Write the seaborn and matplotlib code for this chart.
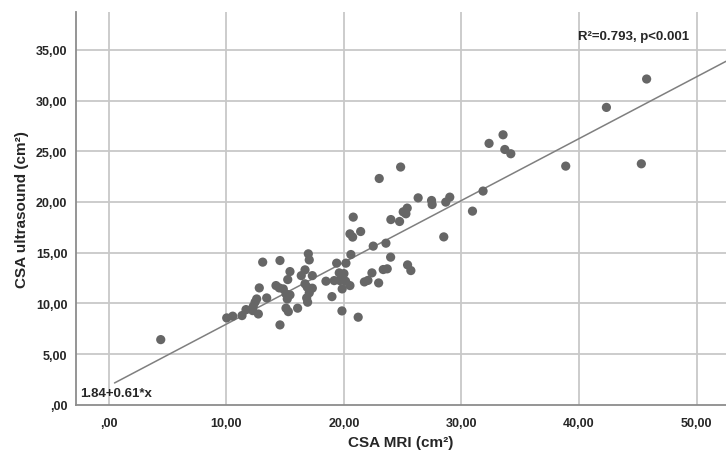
import numpy as np
import pandas as pd
import matplotlib.pyplot as plt
import seaborn as sns

# Data (cm²)
csa_mri = [4.43, 10.04, 10.55, 11.34, 11.68, 12.25, 12.30, 12.45, 12.59, 12.73,
           12.81, 13.44, 13.10, 14.23, 14.51, 14.85, 14.57, 14.57, 15.08, 15.19,
           15.42, 15.08, 15.28, 15.23, 15.42, 16.07, 16.38, 16.70, 16.70, 16.89,
           17.06, 16.84, 16.92, 17.32, 17.32, 16.98, 17.06, 18.48, 19.18, 18.99,
           19.39, 19.61, 20.01, 19.67, 20.15, 20.18, 20.52, 19.86, 19.84, 20.60,
           20.52, 20.75, 20.80, 21.43, 21.22, 21.75, 22.05, 22.39, 22.50, 22.96,
           23.35, 23.69, 23.58, 23.98, 23.01, 24.00, 24.74, 24.83, 25.05, 25.39,
           25.28, 25.42, 25.70, 26.32, 27.46, 27.51, 28.50, 28.67, 29.01, 30.94,
           31.84, 32.35, 33.54, 33.69, 34.20, 38.87, 42.33, 45.30, 45.75]
csa_us = [6.42, 8.56, 8.73, 8.79, 9.38, 9.28, 9.71, 10.11, 10.43, 8.95,
          11.52, 10.53, 14.06, 11.75, 11.52, 11.42, 14.22, 7.87, 10.93, 10.43,
          10.83, 9.52, 9.18, 12.34, 13.13, 9.52, 12.73, 13.30, 11.92, 11.59,
          11.03, 10.53, 10.11, 11.49, 12.73, 14.88, 14.28, 12.18, 12.24, 10.66,
          13.96, 13.00, 12.93, 12.24, 12.18, 13.96, 11.75, 11.42, 9.25, 14.81,
          16.85, 16.53, 18.50, 17.08, 8.63, 12.11, 12.26, 13.00, 15.64, 12.01,
          13.33, 13.40, 15.93, 14.55, 22.31, 18.26, 18.07, 23.44, 19.02, 19.39,
          18.83, 13.79, 13.23, 20.40, 20.14, 19.74, 16.55, 19.98, 20.47, 19.09,
          21.07, 25.77, 26.62, 25.17, 24.75, 23.53, 29.32, 23.76, 32.12]

intercept = 1.84
slope = 0.61
fit_x_range = [0.5, 52.5]

x_ticks = [0, 10, 20, 30, 40, 50]
x_tick_labels = [",00", "10,00", "20,00", "30,00", "40,00", "50,00"]
y_ticks = [0, 5, 10, 15, 20, 25, 30, 35]
y_tick_labels = [",00", "5,00", "10,00", "15,00", "20,00", "25,00", "30,00", "35,00"]

df = pd.DataFrame({"mri": csa_mri, "us": csa_us})

sns.set_style("white")
plt.rcParams['font.family'] = ['Liberation Sans', 'DejaVu Sans']

fig = plt.figure(figsize=(7.26, 4.52), dpi=100)
ax = fig.add_axes([0.1043, 0.1024, 0.8957, 0.8682])

# Grid
for v in x_ticks:
    ax.axvline(v, color="#c8c8c8", lw=1.3, zorder=0)
for v in y_ticks[1:]:
    ax.axhline(v, color="#c8c8c8", lw=1.3, zorder=0)

# Fit line
lx = np.array(fit_x_range)
ax.plot(lx, intercept + slope * lx, color="#7f7f7f", lw=1.1, zorder=2)

sns.scatterplot(data=df, x="mri", y="us", ax=ax, color="#666666",
                s=44, edgecolor="none", linewidth=0, zorder=3)

ax.set_xlim(-2.8, 52.5)
ax.set_ylim(0, 38.7)
ax.set_xticks(x_ticks)
ax.set_xticklabels(x_tick_labels, fontsize=9, fontweight="bold")
ax.set_yticks(y_ticks)
ax.set_yticklabels(y_tick_labels, fontsize=9, fontweight="bold")
ax.tick_params(axis="x", length=0, pad=9)
ax.tick_params(axis="y", length=0, pad=6)

ax.set_xlabel("CSA MRI (cm²)", fontsize=11, fontweight="bold", labelpad=4)
ax.set_ylabel("CSA ultrasound (cm²)", fontsize=11, fontweight="bold", labelpad=5)

for side in ["top", "right"]:
    ax.spines[side].set_visible(False)
for side in ["left", "bottom"]:
    ax.spines[side].set_color("#8c8c8c")
    ax.spines[side].set_linewidth(1.3)

ax.text(39.9, 36.4, "R²=0.793, p<0.001", fontsize=9.5, fontweight="bold",
        ha="left", va="center")
ax.text(-2.4, 1.15, "1.84+0.61*x", fontsize=9.5, fontweight="bold",
        ha="left", va="center")

fig.savefig("out.png", dpi=100)
